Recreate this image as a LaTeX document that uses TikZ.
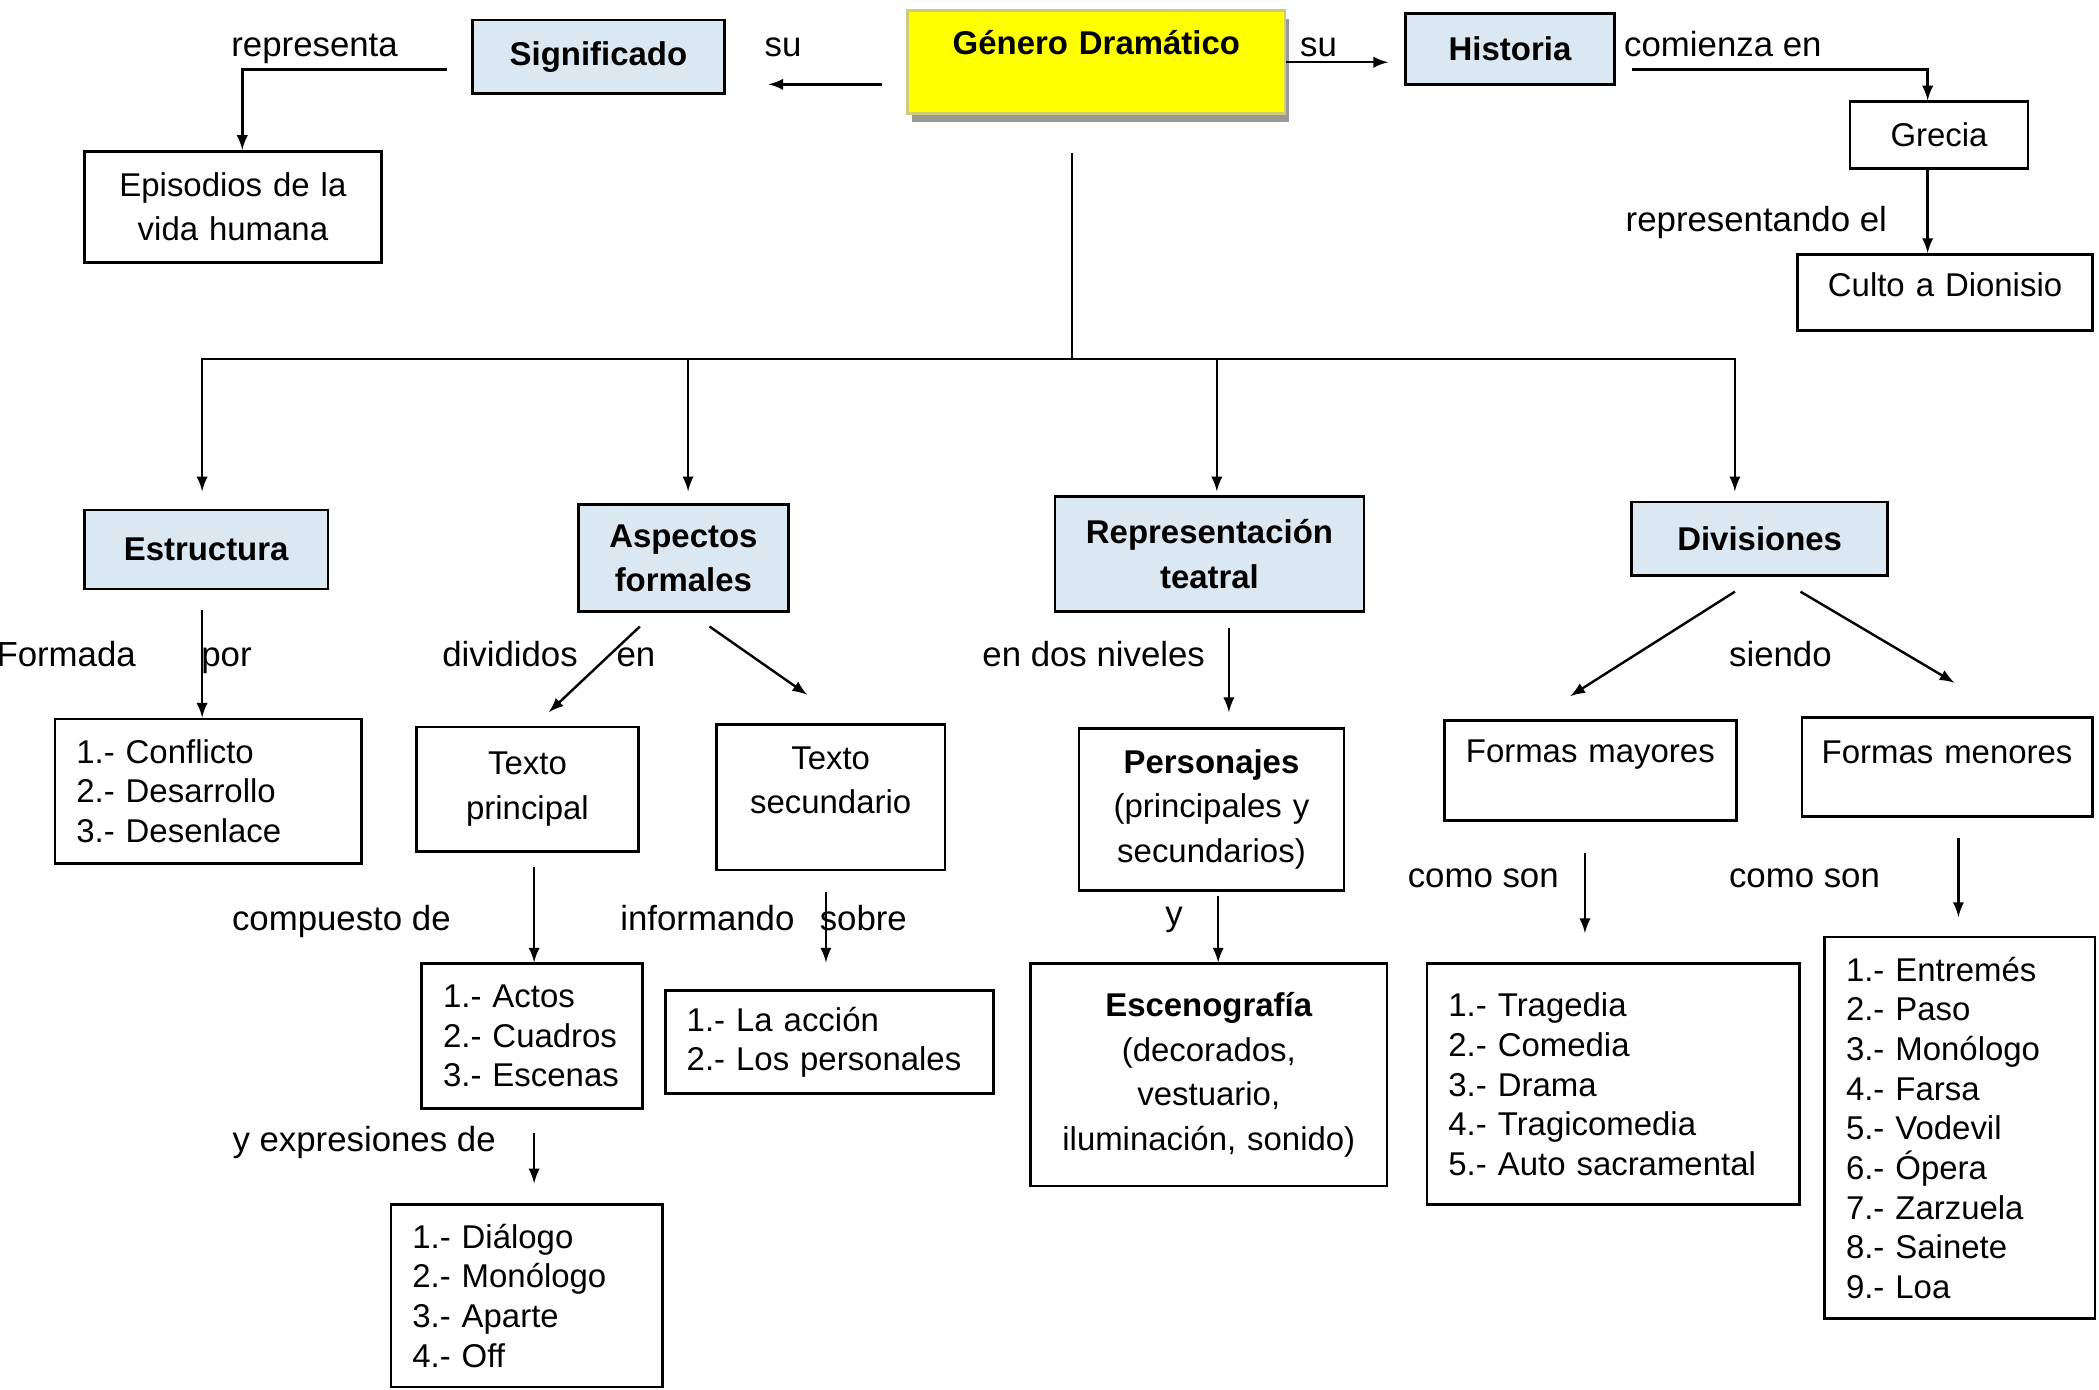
\documentclass[tikz,border=0pt]{standalone}
\usepackage{fontspec}
\setmainfont{Liberation Sans}
\usepackage{tikz}
\usetikzlibrary{shadows}
\definecolor{keyColor}{RGB}{219,231,241}
\definecolor{titleColor}{RGB}{255,255,0}
\definecolor{titleEdge}{RGB}{205,205,120}
\newcommand{\boxFont}{\fontsize{12.3}{16.7}\selectfont}
\newcommand{\listFont}{\fontsize{12.3}{14.8}\selectfont}
\newcommand{\linkFont}{\fontsize{13}{15.5}\selectfont}
\tikzstyle{mapa} = [x = 0.5pt, y = -0.5pt]
\tikzstyle{boxStyle} = [draw=black, line width=1pt, fill=white, align=center, inner xsep=2pt, inner ysep=0pt, font=\boxFont]
\tikzstyle{keyBox} = [boxStyle, fill=keyColor, font=\boxFont\bfseries]
\tikzstyle{titleBox} = [boxStyle, draw=titleEdge, fill=titleColor, font=\boxFont\bfseries, drop shadow={shadow xshift=1.5pt, shadow yshift=-3pt, fill=gray!80, opacity=1}]
\tikzstyle{listStyle} = [boxStyle, align=left, inner xsep=8pt, font=\listFont]
\tikzstyle{linkText} = [anchor=base, inner sep=0pt, font=\linkFont]
\tikzstyle{linkLine} = [line width=0.9pt]
\tikzstyle{linkArrow} = [linkLine, -latex]
\newcommand{\mapBox}[7][boxStyle]{
  \pgfmathsetmacro{\boxWidth}{(#5 - #3) * 0.5 - 4}
  \pgfmathsetmacro{\boxHeight}{(#6 - #4) * 0.5}
  \node [#1, text width = \boxWidth pt, minimum height = \boxHeight pt] (#2) at ({(#3 + #5) / 2}, {(#4 + #6) / 2}) {#7};
}
\newcommand{\listBox}[6]{
  \pgfmathsetmacro{\boxWidth}{(#4 - #2) * 0.5 - 16}
  \pgfmathsetmacro{\boxHeight}{(#5 - #3) * 0.5}
  \node [listStyle, text width = \boxWidth pt, minimum height = \boxHeight pt] (#1) at ({(#2 + #4) / 2}, {(#3 + #5) / 2}) {#6};
}

\begin{document}
\begin{tikzpicture}[mapa]
        \useasboundingbox (0,0) rectangle (1568,1038);

        \mapBox[keyBox]{signif}{353}{15}{541}{70}{Significado}
        \mapBox[titleBox]{genero}{678}{8}{960}{85}{Género Dramático\par\kern14.5pt}
        \mapBox[keyBox]{historia}{1050}{10}{1206}{63}{Historia}
        \mapBox{episodios}{63}{113}{285}{196}{Episodios de la\\vida humana}
        \mapBox{grecia}{1382}{76}{1515}{126}{Grecia}
        \mapBox{culto}{1343}{190}{1563}{247}{Culto a Dionisio\par\kern5.5pt}

        \mapBox[keyBox]{estructura}{63}{381}{245}{440}{Estructura}
        \mapBox[keyBox]{aspectos}{432}{377}{589}{457}{Aspectos\\formales}
        \mapBox[keyBox]{represent}{788}{371}{1019}{457}{Representación\\teatral}
        \mapBox[keyBox]{divisiones}{1219}{375}{1410}{430}{Divisiones}

        \listBox{conflicto}{41}{537}{270}{645}{1.- Conflicto\\2.- Desarrollo\\3.- Desenlace}
        \mapBox{textoPrin}{311}{543}{477}{636}{Texto\\principal}
        \mapBox{textoSec}{535}{541}{706}{650}{Texto\\secundario\par\kern12.5pt}
        \mapBox{personajes}{806}{544}{1004}{665}{\textbf{Personajes}\\(principales y\\secundarios)}
        \mapBox{mayores}{1079}{538}{1297}{613}{Formas mayores\par\kern11.5pt}
        \mapBox{menores}{1346}{536}{1563}{610}{Formas menores\par\kern11pt}

        \listBox{actos}{315}{720}{480}{828}{1.- Actos\\2.- Cuadros\\3.- Escenas}
        \listBox{accion}{497}{740}{742}{817}{1.- La acción\\2.- Los personales}
        \mapBox{escenografia}{770}{720}{1036}{886}{\textbf{Escenografía}\\(decorados,\\vestuario,\\iluminación, sonido)}
        \listBox{tragedia}{1066}{720}{1344}{900}{1.- Tragedia\\2.- Comedia\\3.- Drama\\4.- Tragicomedia\\5.- Auto sacramental}
        \listBox{entremes}{1363}{700}{1565}{985}{1.- Entremés\\2.- Paso\\3.- Monólogo\\4.- Farsa\\5.- Vodevil\\6.- Ópera\\7.- Zarzuela\\8.- Sainete\\9.- Loa}
        \listBox{dialogo}{292}{900}{495}{1036}{1.- Diálogo\\2.- Monólogo\\3.- Aparte\\4.- Off}

        \node [linkText] (lblRepresenta) at (235,42) {representa};
        \node [linkText] (lblSuLeft) at (585,42) {su};
        \node [linkText] (lblSuRight) at (985,42) {su};
        \node [linkText] (lblComienza) at (1287,42) {comienza en};
        \node [linkText] (lblRepresentando) at (1312,173) {representando el};
        \node [linkText, anchor=base west] (lblFormada) at (-3,498) {Formada};
        \node [linkText, anchor=base west] (lblPor) at (150,498) {por};
        \node [linkText] (lblDivididos) at (381,498) {divididos};
        \node [linkText] (lblEn) at (475,498) {en};
        \node [linkText] (lblNiveles) at (817,498) {en dos niveles};
        \node [linkText] (lblSiendo) at (1330,498) {siendo};
        \node [linkText] (lblCompuesto) at (255,695) {compuesto de};
        \node [linkText, anchor=base west] (lblInformando) at (463,695) {informando};
        \node [linkText, anchor=base west] (lblSobre) at (612,695) {sobre};
        \node [linkText] (lblY) at (877,691) {y};
        \node [linkText] (lblExpresiones) at (272,860) {y expresiones de};
        \node [linkText] (lblComoSonMay) at (1108,663) {como son};
        \node [linkText] (lblComoSonMen) at (1348,663) {como son};

        \coordinate (hub) at (801,268);
        \draw [linkArrow, shorten <=9pt, shorten >=16pt] ([yshift=-8.25pt]genero.west) -- ([yshift=-8.25pt]genero.west -| signif.east);
        \draw [linkArrow, shorten >=6pt] (genero.east) -- (genero.east -| historia.west);
        \draw [linkArrow, shorten <=9pt] ([yshift=-4.75pt]signif.west) -| ([xshift=3.5pt]episodios.north);
        \draw [linkArrow, shorten <=6pt] ([yshift=-7.75pt]historia.east) -| ([xshift=-4.25pt]grecia.north);
        \draw [linkArrow] ([xshift=-4.25pt]grecia.south) -- ([xshift=-4.25pt]grecia.south |- culto.north);
        \draw [linkLine, shorten <=14pt] ([xshift=-9pt]genero.south) -- (hub);
        \foreach \target/\shift/\gap in {estructura/-1.5/6.5, aspectos/1.75/4.5, represent/2.75/1.5, divisiones/-9.25/3.5} {
          \draw [linkArrow, shorten >=\gap pt] (hub) -| ([xshift=\shift pt]\target.north);
        }
        \draw [linkArrow, shorten <=7.5pt] ([xshift=-1.5pt]estructura.south) -- ([xshift=-1.5pt]estructura.south |- conflicto.north);
        \draw [linkArrow] ([xshift=-16.25pt, yshift=-5pt]aspectos.south) -- ([xshift=8pt, yshift=5pt]textoPrin.north);
        \draw [linkArrow] ([xshift=9.75pt, yshift=-5pt]aspectos.south) -- ([xshift=-8.75pt, yshift=10.5pt]textoSec.north);
        \draw [linkArrow, shorten <=5.5pt, shorten >=5.5pt] ([xshift=7.25pt]represent.south) -- ([xshift=7.25pt]represent.south |- personajes.north);
        \draw [linkArrow] ([xshift=-9.25pt, yshift=-5.5pt]divisiones.south) -- ([xshift=-7.5pt, yshift=8.5pt]mayores.north);
        \draw [linkArrow] ([xshift=15.25pt, yshift=-5.5pt]divisiones.south) -- ([xshift=2.75pt, yshift=12.5pt]menores.north);
        \draw [linkArrow, shorten <=5.5pt] ([xshift=2.5pt]textoPrin.south) -- ([xshift=2.5pt]textoPrin.south |- actos.north);
        \draw [linkArrow, shorten <=7.5pt, shorten >=10pt] ([xshift=-1.75pt]textoSec.south) -- ([xshift=-1.75pt]textoSec.south |- accion.north);
        \draw [linkArrow, shorten <=8.5pt, shorten >=7.5pt] ([xshift=0.75pt]actos.south) -- ([xshift=0.75pt]actos.south |- dialogo.north);
        \draw [linkArrow, shorten <=1.5pt] ([xshift=2.5pt]personajes.south) -- ([xshift=2.5pt]personajes.south |- escenografia.north);
        \draw [linkArrow, shorten <=11.5pt, shorten >=11pt] ([xshift=-2pt]mayores.south) -- ([xshift=-2pt]mayores.south |- tragedia.north);
        \draw [linkArrow, shorten <=7.5pt, shorten >=7pt] ([xshift=4.25pt]menores.south) -- ([xshift=4.25pt]menores.south |- entremes.north);
      \end{tikzpicture}
\end{document}
